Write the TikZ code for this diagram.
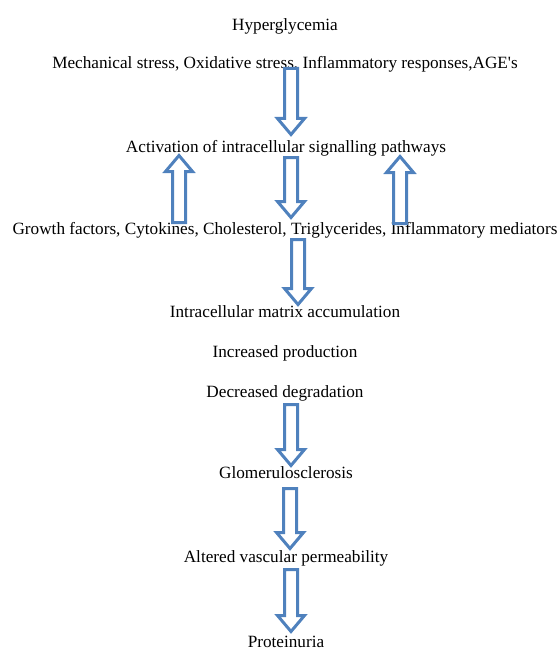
\documentclass[tikz,border=0pt]{standalone}
\usepackage{fontspec}
\setmainfont{Liberation Serif}
\usetikzlibrary{calc}

\definecolor{arrowblue}{RGB}{79,129,189}

% hollow block arrow from #1 to the tip #2
\newcommand\blockarrow[2]{%
    \coordinate (hb) at ($(#2)!16pt!(#1)$);
    \draw[block] ($(#1)!6.5pt!90:(#2)$) -- ($(hb)!6.5pt!90:(#2)$)
        -- ($(hb)!13.5pt!90:(#2)$) -- (#2) -- ($(hb)!13.5pt!-90:(#2)$)
        -- ($(hb)!6.5pt!-90:(#2)$) -- ($(#1)!6.5pt!-90:(#2)$) -- cycle;
}

\begin{document}
\begin{tikzpicture}[x=1pt,y=-1pt,
    txt/.style={anchor=base,inner sep=0pt,font=\fontsize{17.2}{20}\selectfont},
    block/.style={draw=arrowblue,line width=3pt,fill=white,line join=miter}]

    \useasboundingbox (0,0) rectangle (557,650);

    \node[txt] (hyper)    at (285,31)  {Hyperglycemia};
    \node[txt] (stress)   at (285,69)  {Mechanical stress, Oxidative stress, Inflammatory responses,AGE\textquotesingle s};
    \node[txt] (activ)    at (286,152) {Activation of intracellular signalling pathways};
    \node[txt] (growth)   at (285,234) {Growth factors, Cytokines, Cholesterol, Triglycerides, Inflammatory mediators};
    \node[txt] (matrix)   at (285,317) {Intracellular matrix accumulation};
    \node[txt] (incprod)  at (285,357) {Increased production};
    \node[txt] (decdeg)   at (285,397) {Decreased degradation};
    \node[txt] (glomer)   at (286,478) {Glomerulosclerosis};
    \node[txt] (vascular) at (286,562) {Altered vascular permeability};
    \node[txt] (protein)  at (286,647) {Proteinuria};

    % arrow ends: start / tip
    \foreach \n/\x/\ya/\yb in {1/291/68.5/134.5, 2/179/222.5/155.5, 3/291/157.5/217.5,
                               4/400/223.5/156.5, 5/298/239.5/304.5, 6/291/404.5/465.5,
                               7/290/488.5/548.5, 8/291/569.5/631.5}{
        \coordinate (a\n s) at (\x,\ya);
        \coordinate (a\n e) at (\x,\yb);
    }

    \foreach \n in {1,...,8} \blockarrow{a\n s}{a\n e};
\end{tikzpicture}
\end{document}
